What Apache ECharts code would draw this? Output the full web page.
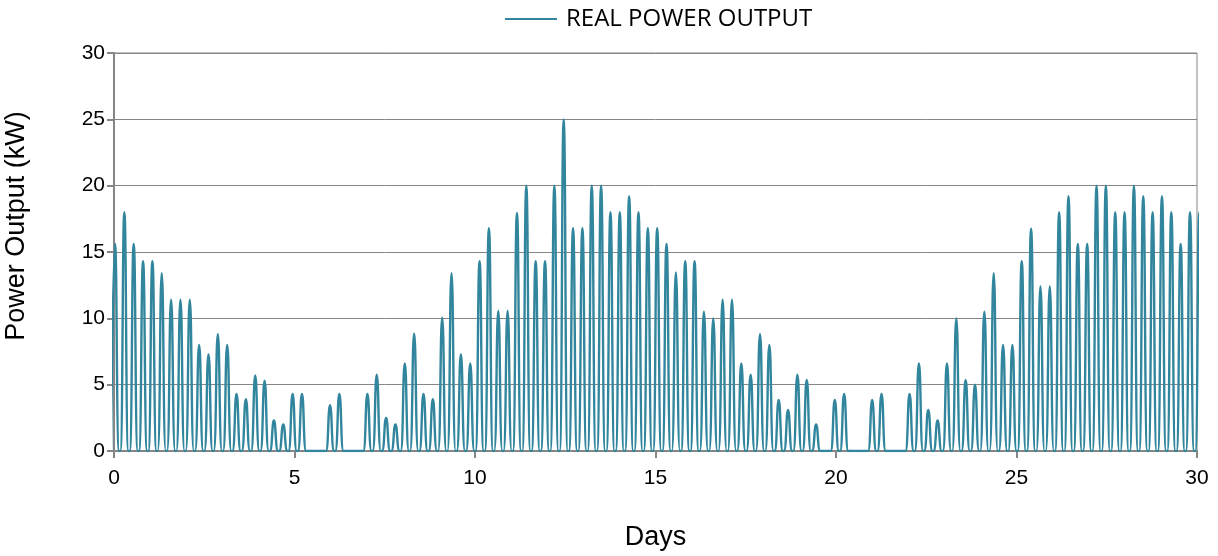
<!DOCTYPE html>
<html>
<head>
<meta charset="utf-8">
<script src="https://cdn.jsdelivr.net/npm/echarts@6/dist/echarts.min.js"></script>
<style>
html,body{margin:0;padding:0;background:#fff;}
#chart{width:1218px;height:556px;}
</style>
</head>
<body>
<div id="chart"></div>
<script>
// ---- data ----
const seriesName = 'REAL POWER OUTPUT';
const xTitle = 'Days';
const yTitle = 'Power Output (kW)';
// daily peak output (kW), one value per cycle, in order
const peakKW = [
  15.6, 18, 15.6, 14.3, 14.3, 13.4, 11.4, 11.4, 11.4, 8.0,
  7.3, 8.8, 8.0, 4.3, 3.9, 5.7, 5.3, 2.3, 2.0, 4.3,
  4.3, 0, 0, 3.45, 4.3, 0, 0, 4.3, 5.75, 2.5,
  2.0, 6.6, 8.85, 4.3, 3.9, 10.05, 13.4, 7.3, 6.6, 14.3,
  16.8, 10.55, 10.55, 17.95, 20, 14.3, 14.3, 20, 25, 16.8,
  16.8, 20, 20, 18, 18, 19.2, 18, 16.8, 16.8, 15.6,
  13.45, 14.3, 14.3, 10.5, 10.0, 11.4, 11.4, 6.6, 5.75, 8.8,
  8.0, 3.85, 3.1, 5.75, 5.35, 2.0, 0, 3.85, 4.3, 0,
  0, 3.85, 4.3, 0, 0, 4.3, 6.6, 3.1, 2.3, 6.6,
  10.0, 5.35, 5.0, 10.5, 13.4, 8.0, 8.0, 14.3, 16.75, 12.4,
  12.4, 18, 19.2, 15.6, 15.6, 20, 20, 18, 18, 20,
  19.2, 18, 19.2, 18, 15.6, 18, 18
];
const firstPeakDay = 0.028;   // time of first peak (days)
const cycleDays = 0.25894;    // spacing between peaks (days)
const halfWidthDays = 0.112;  // output starts/ends this long before/after the peak
const xTicks = [0, 5, 10, 15, 20, 25, 30];
const yTicks = [0, 5, 10, 15, 20, 25, 30];

// build (time, kW) points: zero at start, peak, zero at end of each cycle
const points = [];
peakKW.forEach((v, i) => {
  const t = firstPeakDay + i * cycleDays;
  points.push([t - halfWidthDays, 0]);
  points.push([t, v]);
  points.push([t + halfWidthDays, 0]);
});

const chart = echarts.init(document.getElementById('chart'), null, {renderer: 'canvas'});
const axisColor = '#868686';
const lineColor = '#31859C';
const arial = 'Liberation Sans, Arial, sans-serif';
const tickFont = {fontFamily: arial, fontSize: 21, color: '#000'};
chart.setOption({
  animation: false,
  backgroundColor: '#ffffff',
  legend: {
    data: [{name: seriesName, icon: 'rect'}],
    top: 7,
    left: 505,
    padding: 0,
    itemWidth: 52,
    itemHeight: 2,
    itemStyle: {color: lineColor},
    textStyle: {fontFamily: 'Open Sans, sans-serif', fontSize: 24, color: '#000', padding: [0, 0, 0, 4]}
  },
  grid: {
    left: 114, right: 21, top: 53, bottom: 103,
    show: true, borderColor: axisColor, borderWidth: 1, backgroundColor: 'transparent'
  },
  xAxis: {
    type: 'value',
    min: xTicks[0], max: xTicks[xTicks.length - 1], interval: xTicks[1] - xTicks[0],
    name: xTitle, nameLocation: 'middle', nameGap: 73,
    nameTextStyle: {fontFamily: arial, fontSize: 27, color: '#000'},
    axisLine: {show: true, lineStyle: {color: axisColor, width: 2}},
    axisTick: {show: true, length: 7, lineStyle: {color: axisColor, width: 2}},
    axisLabel: Object.assign({margin: 17}, tickFont),
    splitLine: {show: false}
  },
  yAxis: {
    type: 'value',
    min: yTicks[0], max: yTicks[yTicks.length - 1], interval: yTicks[1] - yTicks[0],
    axisLine: {show: true, lineStyle: {color: axisColor, width: 2}},
    axisTick: {show: true, length: 7, lineStyle: {color: axisColor, width: 2}},
    axisLabel: Object.assign({margin: 9}, tickFont),
    splitLine: {show: true, lineStyle: {color: axisColor, width: 1}}
  },
  graphic: [{
    type: 'text',
    x: 17, y: 226,
    rotation: Math.PI / 2,
    style: {
      text: yTitle,
      fontFamily: arial,
      fontSize: 27,
      fill: '#000',
      align: 'center',
      verticalAlign: 'middle'
    }
  }],
  series: [{
    name: seriesName,
    type: 'line',
    data: points,
    symbol: 'none',
    smooth: 0.5,
    clip: true,
    lineStyle: {color: lineColor, width: 2.4},
    itemStyle: {color: lineColor}
  }]
});
</script>
</body>
</html>
